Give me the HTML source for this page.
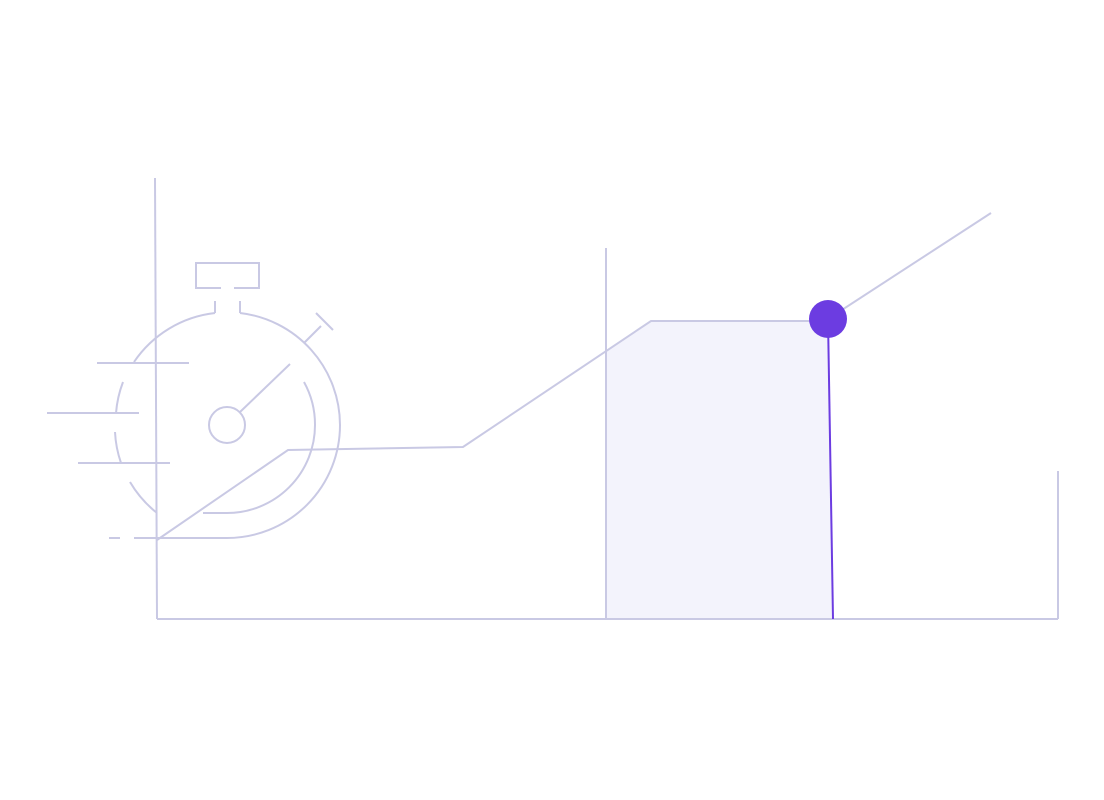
<!DOCTYPE html>
<html><head><style>body{margin:0;background:#fff}svg{display:block}</style></head><body>
<svg width="1104" height="800" viewBox="0 0 1104 800" xmlns="http://www.w3.org/2000/svg">
<g fill="none" stroke="#c9c9e4" stroke-width="2">
<polygon points="606,351 651,321 828,321 833,619 606,619" fill="#f3f3fc" stroke="none"/>
<line x1="155" y1="178" x2="157" y2="619"/>
<line x1="157" y1="619" x2="1058" y2="619"/>
<line x1="1058" y1="471" x2="1058" y2="619"/>
<line x1="606" y1="248" x2="606" y2="619"/>
<polyline points="157,540 288,450 463,447 651,321 828,321"/>
<line x1="828" y1="319" x2="991" y2="213"/>
<polyline points="221,288 196,288 196,263 259,263 259,288 234,288"/>
<line x1="215" y1="301" x2="215" y2="313"/><line x1="240" y1="301" x2="240" y2="313"/>
<path d="M215,313 A113,113 0 0 0 134,362"/>
<path d="M240,313 A113,113 0 0 1 340,425 A113,113 0 0 1 227,538 L157,538"/>
<path d="M123,382 A112,112 0 0 0 116,413"/>
<path d="M115,432 A112,112 0 0 0 121,463"/>
<path d="M130,482 A112,112 0 0 0 157,513"/>
<path d="M304,382 A88,88 0 0 1 315,425 A88,88 0 0 1 227,513 L203,513"/>
<line x1="97" y1="363" x2="189" y2="363"/>
<line x1="47" y1="413" x2="139" y2="413"/>
<line x1="78" y1="463" x2="170" y2="463"/>
<line x1="109" y1="538" x2="120" y2="538"/><line x1="134" y1="538" x2="157" y2="538"/>
<line x1="304" y1="343" x2="321" y2="326"/><line x1="316" y1="313" x2="333" y2="330"/>
<circle cx="227" cy="425" r="18"/>
<line x1="240" y1="412" x2="290" y2="364"/>
</g>
<line x1="828" y1="319" x2="833" y2="619" stroke="#6c3ce1" stroke-width="2"/>
<circle cx="828" cy="319" r="19" fill="#6c3ce1"/>
</svg>
</body></html>
